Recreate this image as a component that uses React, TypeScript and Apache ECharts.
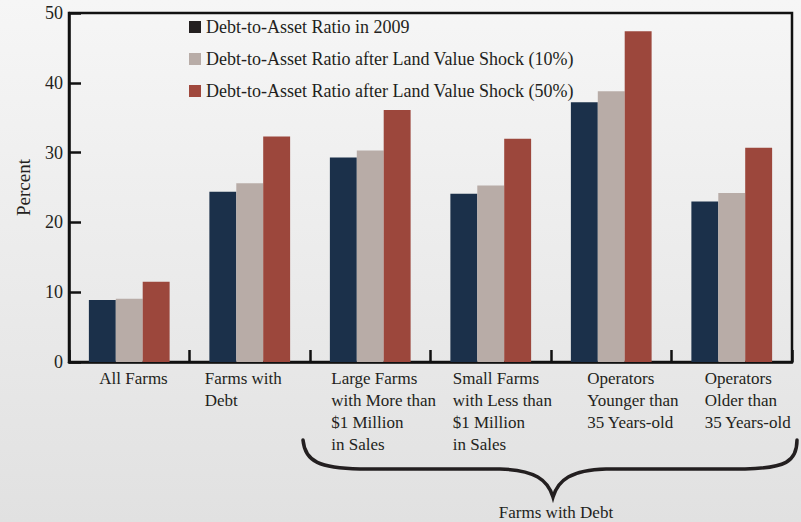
import React, { useEffect, useRef } from "react";
import * as echarts from "echarts";

const categories = [
  "All Farms",
  "Farms with\nDebt",
  "Large Farms\nwith More than\n$1 Million\nin Sales",
  "Small Farms\nwith Less than\n$1 Million\nin Sales",
  "Operators\nYounger than\n35 Years-old",
  "Operators\nOlder than\n35 Years-old",
];
const seriesNames = [
  "Debt-to-Asset Ratio in 2009",
  "Debt-to-Asset Ratio after Land Value Shock (10%)",
  "Debt-to-Asset Ratio after Land Value Shock (50%)",
];
const ratio2009 = [8.9, 24.4, 29.3, 24.1, 37.2, 23.0];
const shock10 = [9.05, 25.6, 30.3, 25.3, 38.8, 24.2];
const shock50 = [11.5, 32.3, 36.1, 32.0, 47.4, 30.7];
const braceLabel = "Farms with Debt";

const labelShift = [-30, -45, -39, -38, -24, -27];
const barColors = ["#1b304a", "#b8aca7", "#9c473c"];
const legendColors = ["#231f20", "#b8aca7", "#a0483d"];
const FONT = "'Liberation Serif', serif";
const INK = "#231f20";

const braceD =
  "M 303 440 C 305 462 320 468 360 469 L 500 469 C 535 470 548 480 553 497 C 558 480 571 470 606 469 L 745 469 C 785 468 797 462 797 440";

export default function App() {
  const ref = useRef<HTMLDivElement>(null);
  useEffect(() => {
    if (!ref.current) return;
    echarts.graphic.registerShape("brace", echarts.graphic.extendPath(braceD, {}));
    const chart = echarts.init(ref.current, null, { renderer: "svg" });
    const data = [ratio2009, shock10, shock50];
    const labelStyle = {
      align: "left",
      verticalAlign: "top",
      fontFamily: FONT,
      fontSize: 17,
      lineHeight: 22,
      color: INK,
    };
    chart.setOption({
      animation: false,
      backgroundColor: new echarts.graphic.LinearGradient(0, 0, 0, 1, [
        { offset: 0, color: "#f6f6f6" },
        { offset: 1, color: "#e1e1e1" },
      ]),
      textStyle: { fontFamily: FONT, color: INK },
      grid: {
        left: 69,
        right: 9,
        top: 13,
        bottom: 160,
        show: true,
        borderColor: "#111",
        borderWidth: 2.5,
        backgroundColor: "transparent",
      },
      legend: {
        orient: "vertical",
        left: 184,
        top: 13,
        itemGap: 14,
        itemWidth: 12,
        itemHeight: 12,
        icon: "rect",
        textStyle: { fontFamily: FONT, fontSize: 18, color: INK },
        data: seriesNames.map((n, i) => ({ name: n, itemStyle: { color: legendColors[i] } })),
      },
      xAxis: {
        type: "category",
        data: categories.map((c, i) => ({
          value: c,
          textStyle: { ...labelStyle, padding: [0, 0, 0, labelShift[i]] },
        })),
        axisLine: { lineStyle: { color: "#111", width: 2.5 } },
        axisTick: { show: true, inside: true, length: 12, lineStyle: { color: "#111", width: 2.5 } },
        axisLabel: { interval: 0, margin: 5, ...labelStyle },
      },
      yAxis: {
        type: "value",
        min: 0,
        max: 50,
        interval: 10,
        name: "Percent",
        nameLocation: "middle",
        nameGap: 36,
        nameTextStyle: { fontFamily: FONT, fontSize: 19, color: INK },
        axisLine: { show: true, lineStyle: { color: "#111", width: 2.5 } },
        axisTick: { show: true, inside: true, length: 12, lineStyle: { color: "#111", width: 2.5 } },
        splitLine: { show: false },
        axisLabel: { fontFamily: FONT, fontSize: 18, color: INK, margin: 6 },
      },
      series: seriesNames.map((n, i) => ({
        name: n,
        type: "bar",
        data: data[i],
        barGap: "0%",
        barCategoryGap: "33%",
        itemStyle: { color: barColors[i] },
      })),
      graphic: [
        {
          type: "brace",
          x: 0,
          y: 0,
          style: { fill: "none", stroke: INK, lineWidth: 3.5, lineCap: "round" },
        },
        {
          type: "text",
          x: 556,
          y: 512,
          style: {
            text: braceLabel,
            font: `17px 'Liberation Serif', serif`,
            fill: INK,
            textAlign: "center",
            textVerticalAlign: "middle",
          },
        },
      ],
    });
    return () => chart.dispose();
  }, []);
  return (
    <div
      ref={ref}
      style={{ position: "fixed", left: 0, top: 0, width: 801, height: 522 }}
    />
  );
}
